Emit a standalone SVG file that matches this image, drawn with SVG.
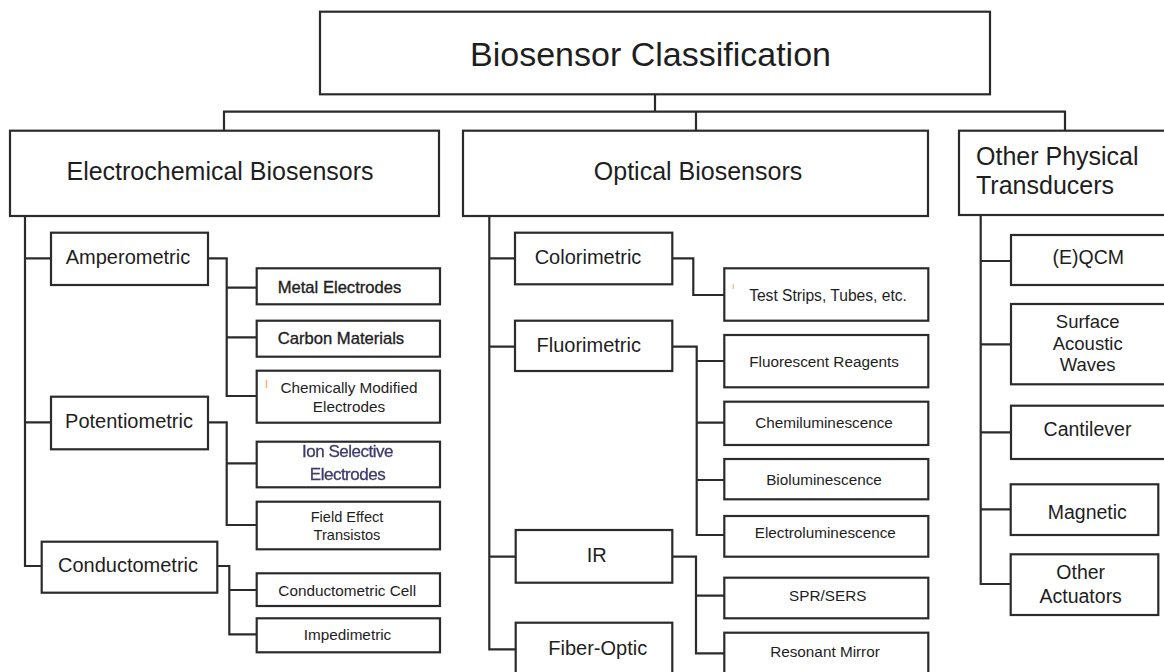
<svg xmlns="http://www.w3.org/2000/svg" width="1164" height="672" viewBox="0 0 1164 672">
  <defs>
    <style>
      .box { fill: #ffffff; stroke: #2b2b2b; stroke-width: 2.2; }
      .wire { fill: none; stroke: #2b2b2b; stroke-width: 2.2; stroke-linejoin: miter; }
      text { font-family: "Liberation Sans", Arial, sans-serif; fill: #1e1e1e; }
      .t-title { font-size: 34px; text-anchor: middle; }
      .t-cat { font-size: 25px; text-anchor: middle; }
      .t-sub { font-size: 20px; text-anchor: middle; }
      .t-phys { font-size: 19.5px; text-anchor: middle; }
      .t-leaf { font-size: 15.3px; text-anchor: middle; }
      .t-leaf-heavy { font-size: 16.6px; text-anchor: middle; stroke: #1e1e1e; stroke-width: 0.35; }
      .t-ion { font-size: 17px; text-anchor: middle; fill: #3f3a6e; letter-spacing: -0.5px; stroke: #3f3a6e; stroke-width: 0.3; }
      .speck { fill: #f2b27a; }
    </style>
    <filter id="soft" x="-5%" y="-20%" width="110%" height="140%">
      <feGaussianBlur stdDeviation="0.45"/>
    </filter>
  </defs>

  <!-- connectors -->
  <g id="connectors">
    <!-- root to categories -->
    <path class="wire" d="M655,94.3 V111.7 M224,130.7 V111.7 H1065 V130.7 M696,111.7 V130.7"/>
    <!-- electrochemical trunk -->
    <path class="wire" d="M25,216 V566 H41.7 M25,258.3 H51 M25,422.3 H51"/>
    <!-- amperometric branches -->
    <path class="wire" d="M208,258.3 H226.7 V396 H256.7 M226.7,287.7 H256.7 M226.7,337.3 H256.7"/>
    <!-- potentiometric branches -->
    <path class="wire" d="M208,422.3 H226.7 V525 H256.7 M226.7,463.3 H256.7"/>
    <!-- conductometric branches -->
    <path class="wire" d="M217.3,566 H229.3 V634.3 H256.7 M229.3,590 H256.7"/>
    <!-- optical trunk -->
    <path class="wire" d="M489.3,216 V649.3 H515.7 M489.3,258.3 H515 M489.3,346.7 H515 M489.3,556.7 H515.7"/>
    <!-- colorimetric branch -->
    <path class="wire" d="M672.3,258.3 H693.3 V295 H724.3"/>
    <!-- fluorimetric branches -->
    <path class="wire" d="M672.3,346.7 H696.7 V535 H724.3 M696.7,361 H724.3 M696.7,422.7 H724.3 M696.7,480 H724.3"/>
    <!-- IR branches -->
    <path class="wire" d="M672.3,556.7 H696 V653.3 H724.3 M696,595.7 H724.3"/>
    <!-- physical transducers trunk -->
    <path class="wire" d="M980.7,215 V584 H1010.7 M980.7,261 H1011 M980.7,344.3 H1011 M980.7,432.3 H1011 M980.7,509.3 H1010.7"/>
  </g>

  <!-- root -->
  <g id="root">
    <rect class="box" x="320" y="11.7" width="670" height="82.6"/>
    <text class="t-title" x="650.5" y="66">Biosensor Classification</text>
  </g>

  <!-- categories -->
  <g id="electrochemical">
    <rect class="box" x="10" y="130.7" width="429" height="85.3"/>
    <text class="t-cat" x="220" y="180">Electrochemical Biosensors</text>
  </g>
  <g id="optical">
    <rect class="box" x="463" y="130.7" width="465" height="85.3"/>
    <text class="t-cat" x="698" y="180">Optical Biosensors</text>
  </g>
  <g id="physical">
    <rect class="box" x="959" y="130.7" width="215" height="84.3"/>
    <text class="t-cat" x="976" y="165" style="text-anchor:start">Other Physical</text>
    <text class="t-cat" x="976" y="194" style="text-anchor:start">Transducers</text>
  </g>

  <!-- electrochemical methods -->
  <g id="amperometric">
    <rect class="box" x="51" y="232.7" width="157" height="52.3"/>
    <text class="t-sub" x="128" y="264.3">Amperometric</text>
  </g>
  <g id="potentiometric">
    <rect class="box" x="51" y="396.7" width="157" height="52.6"/>
    <text class="t-sub" x="129" y="428.3">Potentiometric</text>
  </g>
  <g id="conductometric">
    <rect class="box" x="41.7" y="541.7" width="175.6" height="51"/>
    <text class="t-sub" x="128" y="571.7">Conductometric</text>
  </g>

  <!-- electrochemical leaves -->
  <g id="metal-electrodes">
    <rect class="box" x="256.7" y="268.3" width="183.3" height="36"/>
    <text class="t-leaf-heavy" x="339.5" y="293.3">Metal Electrodes</text>
  </g>
  <g id="carbon-materials">
    <rect class="box" x="256.7" y="320.7" width="183.3" height="36"/>
    <text class="t-leaf-heavy" x="341" y="344">Carbon Materials</text>
  </g>
  <g id="chem-modified">
    <rect class="box" x="256.7" y="370.7" width="183.3" height="52"/>
    <rect class="speck" x="265.8" y="380" width="1.4" height="8"/>
    <text class="t-leaf" x="349" y="393.3">Chemically Modified</text>
    <text class="t-leaf" x="349" y="412.3">Electrodes</text>
  </g>
  <g id="ion-selective">
    <rect class="box" x="256.7" y="441.7" width="183.3" height="45.6"/>
    <g filter="url(#soft)">
      <text class="t-ion" x="347.5" y="456.7">Ion Selective</text>
      <text class="t-ion" x="347.5" y="480">Electrodes</text>
    </g>
  </g>
  <g id="field-effect">
    <rect class="box" x="256.7" y="501.7" width="183.3" height="47.6"/>
    <text class="t-leaf" x="347" y="521.7" style="font-size:14.6px">Field Effect</text>
    <text class="t-leaf" x="347" y="540" style="font-size:14.6px">Transistos</text>
  </g>
  <g id="conductometric-cell">
    <rect class="box" x="256.7" y="573.3" width="183.3" height="32.7"/>
    <text class="t-leaf" x="347.2" y="596">Conductometric Cell</text>
  </g>
  <g id="impedimetric">
    <rect class="box" x="256.7" y="618.3" width="183.3" height="34"/>
    <text class="t-leaf" x="347.5" y="640">Impedimetric</text>
  </g>

  <!-- optical methods -->
  <g id="colorimetric">
    <rect class="box" x="515" y="232.7" width="157.3" height="51.6"/>
    <text class="t-sub" x="588" y="264.3">Colorimetric</text>
  </g>
  <g id="fluorimetric">
    <rect class="box" x="515" y="320.7" width="157.3" height="50.3"/>
    <text class="t-sub" x="588.7" y="351.7">Fluorimetric</text>
  </g>
  <g id="ir">
    <rect class="box" x="515.7" y="530" width="156.6" height="52.7"/>
    <text class="t-sub" x="596.7" y="562.3">IR</text>
  </g>
  <g id="fiber-optic">
    <rect class="box" x="515.7" y="622.7" width="156.6" height="60"/>
    <text class="t-sub" x="597.7" y="655">Fiber-Optic</text>
  </g>

  <!-- optical leaves -->
  <g id="test-strips">
    <rect class="box" x="724.3" y="268.3" width="204" height="52.4"/>
    <rect class="speck" x="732.6" y="284" width="1.2" height="5"/>
    <text class="t-leaf" x="828" y="301" style="font-size:15.6px">Test Strips, Tubes, etc.</text>
  </g>
  <g id="fluorescent-reagents">
    <rect class="box" x="724.3" y="335" width="204" height="52.3"/>
    <text class="t-leaf" x="824" y="366.7">Fluorescent Reagents</text>
  </g>
  <g id="chemiluminescence">
    <rect class="box" x="724.3" y="401.7" width="204" height="43.3"/>
    <text class="t-leaf" x="824" y="427.7">Chemiluminescence</text>
  </g>
  <g id="bioluminescence">
    <rect class="box" x="724.3" y="459" width="204" height="40.3"/>
    <text class="t-leaf" x="824" y="485">Bioluminescence</text>
  </g>
  <g id="electroluminescence">
    <rect class="box" x="724.3" y="516" width="204" height="40.7"/>
    <text class="t-leaf" x="825.3" y="537.7">Electroluminescence</text>
  </g>
  <g id="spr-sers">
    <rect class="box" x="724.3" y="577.7" width="204" height="40.6"/>
    <text class="t-leaf" x="827.8" y="600.7">SPR/SERS</text>
  </g>
  <g id="resonant-mirror">
    <rect class="box" x="724.3" y="632.7" width="204" height="45"/>
    <text class="t-leaf" x="825" y="656.7">Resonant Mirror</text>
  </g>

  <!-- physical transducers -->
  <g id="eqcm">
    <rect class="box" x="1011" y="235" width="170" height="50"/>
    <text class="t-phys" x="1088.3" y="264">(E)QCM</text>
  </g>
  <g id="saw">
    <rect class="box" x="1011" y="304" width="170" height="80.3"/>
    <text class="t-phys" x="1087.7" y="328.3" style="font-size:18.5px">Surface</text>
    <text class="t-phys" x="1087.7" y="350" style="font-size:18.5px">Acoustic</text>
    <text class="t-phys" x="1087.7" y="371" style="font-size:18.5px">Waves</text>
  </g>
  <g id="cantilever">
    <rect class="box" x="1011" y="405.7" width="170" height="53.3"/>
    <text class="t-phys" x="1087.5" y="436">Cantilever</text>
  </g>
  <g id="magnetic">
    <rect class="box" x="1010.7" y="484.3" width="147.6" height="50.7"/>
    <text class="t-phys" x="1087.3" y="519.3">Magnetic</text>
  </g>
  <g id="other-actuators">
    <rect class="box" x="1010.7" y="554.3" width="147.6" height="60.7"/>
    <text class="t-phys" x="1080.7" y="579">Other</text>
    <text class="t-phys" x="1080.7" y="603.3">Actuators</text>
  </g>
</svg>
